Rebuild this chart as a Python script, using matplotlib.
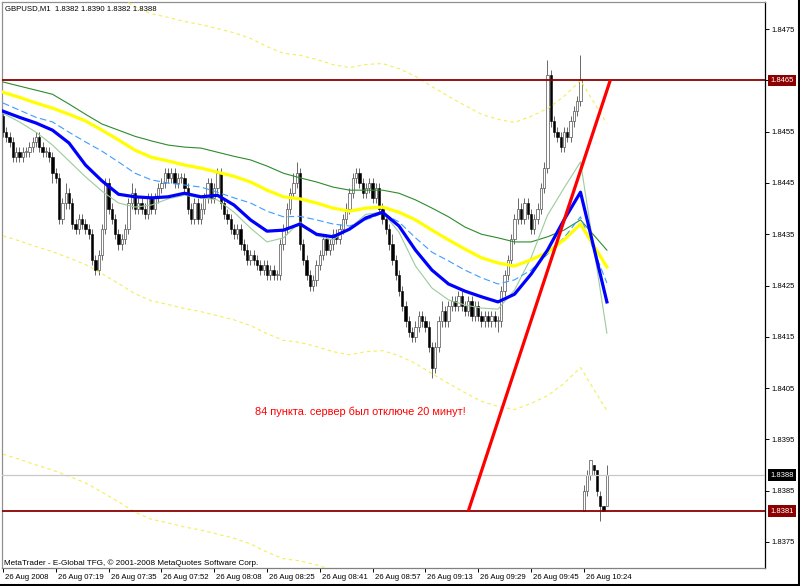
import matplotlib
matplotlib.use("Agg")
import matplotlib.pyplot as plt
import matplotlib.transforms as mtransforms
from matplotlib.lines import Line2D
import numpy as np

plt.rcParams['font.family'] = ['Liberation Sans', 'DejaVu Sans']

# ---------------- data ----------------
title_text = "GBPUSD,M1  1.8382 1.8390 1.8382 1.8388"
footer_text = "MetaTrader - E-Global TFG, \u00a9 2001-2008 MetaQuotes Software Corp."
note_text = "84 пункта. сервер был отключе 20 минут!"

opens = [
    1.8458,1.8455,1.8454,1.8453,1.8450,1.8451,1.8450,1.8451,1.8451,1.8452,
    1.8453,1.8454,1.8452,1.8451,1.8451,1.8450,1.8447,1.8446,1.8438,1.8441,
    1.8443,1.8441,1.8437,1.8436,1.8438,1.8437,1.8436,1.8435,1.8430,1.8428,
    1.8431,1.8436,1.8445,1.8440,1.8438,1.8435,1.8433,1.8434,1.8436,1.8441,
    1.8443,1.8440,1.8441,1.8440,1.8439,1.8442,1.8440,1.8442,1.8444,1.8445,
    1.8447,1.8446,1.8447,1.8445,1.8446,1.8446,1.8444,1.8440,1.8438,1.8441,
    1.8438,1.8440,1.8442,1.8445,1.8442,1.8444,1.8447,1.8441,1.8439,1.8438,
    1.8436,1.8435,1.8436,1.8433,1.8432,1.8430,1.8431,1.8430,1.8429,1.8428,
    1.8429,1.8427,1.8428,1.8427,1.8427,1.8433,1.8436,1.8440,1.8443,1.8445,
    1.8447,1.8433,1.8430,1.8427,1.8425,1.8426,1.8429,1.8431,1.8434,1.8432,
    1.8433,1.8435,1.8434,1.8436,1.8438,1.8440,1.8443,1.8446,1.8447,1.8445,
    1.8443,1.8444,1.8445,1.8442,1.8444,1.8440,1.8438,1.8436,1.8433,1.8430,
    1.8427,1.8424,1.8421,1.8418,1.8416,1.8415,1.8417,1.8419,1.8418,1.8417,
    1.8413,1.8409,1.8413,1.8418,1.8420,1.8418,1.8421,1.8422,1.8421,1.8423,
    1.8421,1.8420,1.8422,1.8419,1.8421,1.8419,1.8418,1.8419,1.8418,1.8419,
    1.8418,1.8418,1.8424,1.8427,1.8430,1.8434,1.8438,1.8440,1.8438,1.8441,
    1.8439,1.8436,1.8438,1.8440,1.8444,1.8448,1.8466,1.8457,1.8455,1.8454,
    1.8452,1.8455,1.8454,1.8457,1.8459,1.8461,
    1.8381,1.8385,1.8388,1.8390,1.8389,1.8384,1.8382,1.8382]

highs = [
    1.8459,1.8456,1.8455,1.8454,1.8452,1.8452,1.8452,1.8452,1.8453,1.8454,
    1.8455,1.8455,1.8453,1.8452,1.8452,1.8451,1.8448,1.8447,1.8442,1.8445,
    1.8444,1.8442,1.8438,1.8439,1.8439,1.8438,1.8437,1.8436,1.8431,1.8432,
    1.8437,1.8446,1.8446,1.8441,1.8439,1.8436,1.8435,1.8437,1.8442,1.8445,
    1.8444,1.8442,1.8442,1.8441,1.8443,1.8443,1.8443,1.8445,1.8446,1.8448,
    1.8448,1.8448,1.8448,1.8447,1.8447,1.8447,1.8445,1.8441,1.8442,1.8442,
    1.8441,1.8443,1.8446,1.8446,1.8445,1.8448,1.8448,1.8442,1.8440,1.8439,
    1.8437,1.8437,1.8437,1.8434,1.8433,1.8432,1.8432,1.8431,1.8430,1.8430,
    1.8430,1.8429,1.8429,1.8428,1.8434,1.8437,1.8441,1.8444,1.8447,1.8449,
    1.8448,1.8434,1.8431,1.8428,1.8427,1.8430,1.8432,1.8435,1.8435,1.8434,
    1.8436,1.8436,1.8437,1.8439,1.8441,1.8444,1.8447,1.8448,1.8448,1.8446,
    1.8445,1.8446,1.8446,1.8445,1.8445,1.8441,1.8439,1.8437,1.8435,1.8431,
    1.8428,1.8425,1.8422,1.8419,1.8417,1.8418,1.8420,1.8420,1.8419,1.8418,
    1.8414,1.8414,1.8419,1.8422,1.8421,1.8422,1.8423,1.8423,1.8424,1.8424,
    1.8422,1.8423,1.8423,1.8422,1.8422,1.8420,1.8420,1.8420,1.8420,1.8420,
    1.8419,1.8425,1.8428,1.8431,1.8435,1.8439,1.8442,1.8441,1.8442,1.8442,
    1.8440,1.8439,1.8441,1.8445,1.8449,1.8469,1.8467,1.8458,1.8456,1.8455,
    1.8456,1.8456,1.8458,1.8460,1.8462,1.8470,
    1.8386,1.8389,1.8391,1.8390,1.8389,1.8385,1.8382,1.8390]

lows = [
    1.8454,1.8453,1.8452,1.8449,1.8449,1.8449,1.8449,1.8450,1.8450,1.8451,
    1.8452,1.8451,1.8450,1.8450,1.8449,1.8445,1.8445,1.8437,1.8437,1.8440,
    1.8440,1.8436,1.8435,1.8435,1.8436,1.8435,1.8434,1.8429,1.8427,1.8427,
    1.8430,1.8435,1.8439,1.8437,1.8434,1.8432,1.8432,1.8433,1.8435,1.8440,
    1.8439,1.8439,1.8439,1.8438,1.8438,1.8439,1.8439,1.8441,1.8443,1.8444,
    1.8445,1.8445,1.8444,1.8444,1.8445,1.8443,1.8439,1.8437,1.8437,1.8437,
    1.8437,1.8439,1.8441,1.8441,1.8441,1.8443,1.8440,1.8438,1.8437,1.8435,
    1.8434,1.8434,1.8432,1.8431,1.8429,1.8429,1.8429,1.8428,1.8427,1.8427,
    1.8426,1.8426,1.8426,1.8426,1.8426,1.8432,1.8435,1.8439,1.8442,1.8444,
    1.8432,1.8429,1.8426,1.8424,1.8424,1.8425,1.8428,1.8430,1.8431,1.8431,
    1.8432,1.8433,1.8433,1.8435,1.8437,1.8439,1.8442,1.8445,1.8444,1.8442,
    1.8442,1.8443,1.8441,1.8441,1.8439,1.8437,1.8435,1.8432,1.8429,1.8426,
    1.8423,1.8420,1.8417,1.8415,1.8414,1.8414,1.8416,1.8417,1.8416,1.8412,
    1.8407,1.8408,1.8412,1.8417,1.8417,1.8417,1.8420,1.8420,1.8420,1.8420,
    1.8419,1.8419,1.8418,1.8418,1.8418,1.8417,1.8417,1.8417,1.8417,1.8417,
    1.8416,1.8417,1.8423,1.8426,1.8429,1.8433,1.8437,1.8437,1.8437,1.8438,
    1.8435,1.8435,1.8437,1.8439,1.8443,1.8447,1.8456,1.8454,1.8453,1.8451,
    1.8451,1.8453,1.8453,1.8456,1.8458,1.8460,
    1.8381,1.8384,1.8387,1.8388,1.8384,1.8379,1.8381,1.8382]

closes = [
    1.8455,1.8454,1.8453,1.8450,1.8451,1.8450,1.8451,1.8451,1.8452,1.8453,
    1.8454,1.8452,1.8451,1.8451,1.8450,1.8447,1.8446,1.8438,1.8441,1.8443,
    1.8441,1.8437,1.8436,1.8438,1.8437,1.8436,1.8435,1.8430,1.8428,1.8431,
    1.8436,1.8445,1.8440,1.8438,1.8435,1.8433,1.8434,1.8436,1.8441,1.8443,
    1.8440,1.8441,1.8440,1.8439,1.8442,1.8440,1.8442,1.8444,1.8445,1.8447,
    1.8446,1.8447,1.8445,1.8446,1.8446,1.8444,1.8440,1.8438,1.8441,1.8438,
    1.8440,1.8442,1.8445,1.8442,1.8444,1.8447,1.8441,1.8439,1.8438,1.8436,
    1.8435,1.8436,1.8433,1.8432,1.8430,1.8431,1.8430,1.8429,1.8428,1.8429,
    1.8427,1.8428,1.8427,1.8427,1.8433,1.8436,1.8440,1.8443,1.8445,1.8447,
    1.8433,1.8430,1.8427,1.8425,1.8426,1.8429,1.8431,1.8434,1.8432,1.8433,
    1.8435,1.8434,1.8436,1.8438,1.8440,1.8443,1.8446,1.8447,1.8445,1.8443,
    1.8444,1.8445,1.8442,1.8444,1.8440,1.8438,1.8436,1.8433,1.8430,1.8427,
    1.8424,1.8421,1.8418,1.8416,1.8415,1.8417,1.8419,1.8418,1.8417,1.8413,
    1.8409,1.8413,1.8418,1.8420,1.8418,1.8421,1.8422,1.8421,1.8423,1.8421,
    1.8420,1.8422,1.8419,1.8421,1.8419,1.8418,1.8419,1.8418,1.8419,1.8418,
    1.8418,1.8424,1.8427,1.8430,1.8434,1.8438,1.8440,1.8438,1.8441,1.8439,
    1.8436,1.8438,1.8440,1.8444,1.8448,1.8466,1.8457,1.8455,1.8454,1.8452,
    1.8455,1.8454,1.8457,1.8459,1.8461,1.8465,
    1.8385,1.8388,1.8391,1.8389,1.8385,1.8382,1.8381,1.8388]

time_tick_bars = [0, 16, 32, 48, 64, 80, 96, 112, 128, 144, 160, 176]
time_tick_labels = ["26 Aug 2008", "26 Aug 07:19", "26 Aug 07:35", "26 Aug 07:52",
                    "26 Aug 08:08", "26 Aug 08:25", "26 Aug 08:41", "26 Aug 08:57",
                    "26 Aug 09:13", "26 Aug 09:29", "26 Aug 09:45", "26 Aug 10:24"]
price_ticks = [1.8375, 1.8385, 1.8395, 1.8405, 1.8415, 1.8425,
               1.8435, 1.8445, 1.8455, 1.8465, 1.8475]

# indicator lines, read at every 5th bar (+ last bar)
ma_bars = [0, 5, 10, 15, 20, 25, 30, 35, 40, 45, 50, 55, 60, 65, 70, 75, 80, 85,
           90, 95, 100, 105, 110, 115, 120, 125, 130, 135, 140, 145, 150, 155,
           160, 165, 170, 175, 183]
ma_fast = [1.84586,1.84569,1.84549,1.84524,1.84493,1.84462,1.84434,1.84411,1.84403,1.84407,
           1.84419,1.84426,1.84421,1.84417,1.84393,1.84362,1.84335,1.84343,1.84374,1.84347,
           1.84339,1.84362,1.84389,1.84393,1.84354,1.84288,1.84245,1.84222,1.84212,1.84206,
           1.84204,1.84241,1.84304,1.84387,1.84440,1.84491,1.84157]
ma_blue = [1.84590,1.84578,1.84567,1.84553,1.84528,1.84485,1.84454,1.84428,1.84423,1.84421,
           1.84423,1.84430,1.84423,1.84426,1.84407,1.84378,1.84356,1.84358,1.84370,1.84350,
           1.84345,1.84360,1.84382,1.84393,1.84366,1.84319,1.84280,1.84253,1.84239,1.84228,
           1.84218,1.84233,1.84272,1.84319,1.84378,1.84432,1.84218]
ma_dashed = [1.84606,1.84592,1.84578,1.84569,1.84549,1.84530,1.84512,1.84491,1.84469,1.84456,
             1.84450,1.84446,1.84442,1.84432,1.84421,1.84411,1.84395,1.84384,1.84385,1.84378,
             1.84370,1.84366,1.84378,1.84391,1.84374,1.84343,1.84315,1.84298,1.84280,1.84265,
             1.84253,1.84261,1.84280,1.84311,1.84343,1.84384,1.84255]
ma_yellow = [1.84627,1.84617,1.84606,1.84596,1.84584,1.84571,1.84553,1.84534,1.84514,1.84500,
             1.84493,1.84485,1.84479,1.84471,1.84463,1.84452,1.84436,1.84423,1.84419,1.84411,
             1.84401,1.84395,1.84401,1.84403,1.84393,1.84378,1.84358,1.84339,1.84321,1.84304,
             1.84294,1.84288,1.84300,1.84315,1.84339,1.84370,1.84286]
ma_green = [1.84647,1.84639,1.84631,1.84623,1.84604,1.84584,1.84565,1.84553,1.84541,1.84532,
            1.84524,1.84520,1.84518,1.84510,1.84502,1.84495,1.84483,1.84469,1.84460,1.84452,
            1.84442,1.84436,1.84436,1.84436,1.84430,1.84417,1.84401,1.84384,1.84364,1.84350,
            1.84343,1.84335,1.84335,1.84345,1.84358,1.84378,1.84319]
env_upper = [1.84907,1.84897,1.84886,1.84876,1.84864,1.84851,1.84833,1.84814,1.84794,1.84780,
             1.84773,1.84765,1.84759,1.84751,1.84743,1.84732,1.84716,1.84703,1.84699,1.84691,
             1.84681,1.84675,1.84681,1.84683,1.84673,1.84658,1.84638,1.84619,1.84601,1.84584,
             1.84574,1.84568,1.84580,1.84595,1.84619,1.84650,1.84566]
env_lower = [1.84347,1.84337,1.84326,1.84316,1.84304,1.84291,1.84273,1.84254,1.84234,1.84220,
             1.84213,1.84205,1.84199,1.84191,1.84183,1.84172,1.84156,1.84143,1.84139,1.84131,
             1.84121,1.84115,1.84121,1.84123,1.84113,1.84098,1.84078,1.84059,1.84041,1.84024,
             1.84014,1.84008,1.84020,1.84035,1.84059,1.84090,1.84006]
env_lower_outer = [1.83921,1.83911,1.83900,1.83890,1.83878,1.83865,1.83847,1.83828,1.83808,1.83794,
                   1.83787,1.83779,1.83773,1.83765,1.83757,1.83746,1.83730,1.83717,1.83713,1.83705,
                   1.83695,1.83689,1.83695,1.83697,1.83687,1.83672,1.83652,1.83633,1.83615,1.83598,
                   1.83588,1.83582,1.83594,1.83609,1.83633,1.83664,1.83580]

level_high = 1.8465
level_low = 1.8381
bid_price = 1.8388
trend_bars = [141, 184]
trend_prices = [1.8381, 1.8465]

# ---------------- figure ----------------
W, H = 800, 586
fig = plt.figure(figsize=(W / 100, H / 100), dpi=100)
fig.patch.set_facecolor('white')
ax = fig.add_axes([2 / W, (H - 568) / H, 763 / W, 566 / H])
ax.set_facecolor('white')

px_per_bar = 3.3
ax.set_xlim((2 - 3) / px_per_bar, (765 - 3) / px_per_bar)
ax.set_ylim(1.83699, 1.84803)

o = np.array(opens); h = np.array(highs); l = np.array(lows); c = np.array(closes)
x = np.arange(len(o))
bull = c >= o

# candles
ax.vlines(x, l, h, color='#505050', linewidth=0.6, zorder=2)
body_bottom = np.minimum(o, c)
body_height = np.maximum(np.abs(c - o), 0.000025)
ax.bar(x[bull], body_height[bull], bottom=body_bottom[bull], width=0.68,
       color='white', edgecolor='#505050', linewidth=0.5, zorder=2.1)
ax.bar(x[~bull], body_height[~bull], bottom=body_bottom[~bull], width=0.68,
       color='black', edgecolor='black', linewidth=0.4, zorder=2.1)

# indicator lines
ax.plot(ma_bars, env_upper, color='#F2EE55', lw=0.8, dashes=(3, 3), zorder=3)
ax.plot(ma_bars, env_lower, color='#F2EE55', lw=0.8, dashes=(3, 3), zorder=3)
ax.plot(ma_bars, env_lower_outer, color='#F2EE55', lw=0.8, dashes=(3, 3), zorder=3)
ax.plot(ma_bars, ma_green, color='#2E8B2E', lw=0.8, zorder=3)
ax.plot(ma_bars, ma_fast, color='#9CCB9C', lw=0.8, zorder=3)
ax.plot(ma_bars, ma_dashed, color='#3F9CFF', lw=0.8, dashes=(6, 3), zorder=3)
ax.plot(ma_bars, ma_yellow, color='#FFFF00', lw=2.3, zorder=3.2,
        solid_joinstyle='round')
ax.plot(ma_bars, ma_blue, color='#0000FF', lw=2.3, zorder=3.3,
        solid_joinstyle='round')

# levels
ax.axhline(bid_price, color='#C8C8C8', lw=0.9, zorder=3.5)
ax.axhline(level_high, color='#8B0000', lw=1.3, zorder=4)
ax.axhline(level_low, color='#8B0000', lw=1.3, zorder=4)
ax.plot(trend_bars, trend_prices, color='#FF0000', lw=2.3, zorder=5,
        solid_capstyle='butt')

# note
ax.text((255 - 3) / px_per_bar, 1.84003, note_text, color='#FF0000',
        fontsize=7.9, ha='left', va='center', zorder=6)

# axes / ticks
for side, col in (('left', '#909090'), ('top', '#909090'),
                  ('right', '#000000'), ('bottom', '#808080')):
    ax.spines[side].set_color(col)
    ax.spines[side].set_linewidth(0.9)

ax.yaxis.tick_right()
ax.set_yticks(price_ticks)
# the 1.8465 level is labelled by its own coloured box instead
ax.set_yticklabels(['' if p == level_high else '%.4f' % p for p in price_ticks])
ax.tick_params(axis='y', direction='out', length=3, width=0.7, pad=2,
               labelsize=5.5, colors='black')
ax.set_xticks(time_tick_bars)
ax.set_xticklabels(time_tick_labels)
ax.tick_params(axis='x', direction='out', length=3, width=0.7, pad=1,
               labelsize=5.6, colors='black')
offset = mtransforms.ScaledTranslation(2 / 100, 0, fig.dpi_scale_trans)
for lab in ax.get_xticklabels():
    lab.set_horizontalalignment('left')
    lab.set_transform(lab.get_transform() + offset)

# price boxes on right axis
btrans = mtransforms.blended_transform_factory(ax.transAxes, ax.transData)
for price, fc in ((level_high, '#8B0000'), (bid_price, '#000000'), (level_low, '#8B0000')):
    ax.text(1 + 5 / 763, price, '%.4f' % price, transform=btrans, ha='left',
            va='center', fontsize=5.5, color='white', clip_on=False, zorder=10,
            bbox=dict(boxstyle='square,pad=0.3', fc=fc, ec='none'))

# header / footer text
fig.text(5 / W, 1 - 9 / H, title_text, fontsize=5.6, ha='left', va='center',
         color='black')
fig.text(4 / W, 1 - 563 / H, footer_text, fontsize=5.9, ha='left', va='center',
         color='black')

# outer window border (right and bottom)
fig.add_artist(Line2D([798.5 / W, 798.5 / W], [0, 1], transform=fig.transFigure,
                      color='black', lw=2.2))
fig.add_artist(Line2D([0, 1], [1.5 / H, 1.5 / H], transform=fig.transFigure,
                      color='black', lw=2.2))

fig.savefig('out.png', dpi=100, facecolor='white')
